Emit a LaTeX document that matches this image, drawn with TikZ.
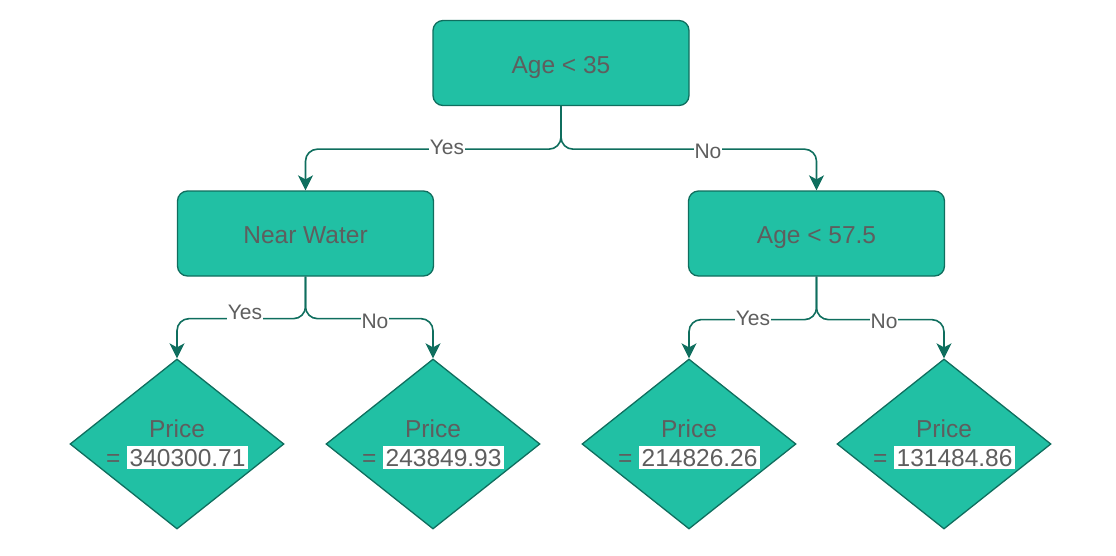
\documentclass[tikz,border=0pt]{standalone}
\usepackage{fontspec}
\setmainfont{Liberation Sans}
\usetikzlibrary{shapes.geometric,arrows.meta}
\definecolor{tfill}{HTML}{21C0A4}
\definecolor{tline}{HTML}{0F6E5E}
\definecolor{ttext}{HTML}{5E5E5E}
\newcommand{\numbox}[1]{{\setlength{\fboxsep}{2.5pt}\colorbox{white}{#1}}}
\begin{document}
\begin{tikzpicture}[x=1pt,y=-1pt,
  box/.style={draw=tline, line width=1.3pt, fill=tfill, rounded corners=10pt,
    minimum width=256pt, minimum height=85pt, inner sep=0pt,
    text height=20pt, text depth=0pt,
    text=ttext, font=\fontsize{24.5}{29}\selectfont},
  leaf/.style={draw=tline, line width=1.3pt, fill=tfill, diamond, shape aspect=1.26,
    minimum width=214pt, minimum height=170pt, inner sep=0pt, align=center,
    text=ttext, font=\fontsize{24.5}{29}\selectfont},
  conn/.style={draw=tline, line width=1.6pt, rounded corners=12pt,
    -{Stealth[length=15pt, width=15pt, inset=4pt]}},
  lbl/.style={fill=white, inner sep=1pt, text=ttext, font=\fontsize{21}{25}\selectfont}]
\useasboundingbox (0,0) rectangle (1116,555);
\node[box] (root) at (561,63) {Age < 35};
\node[box] (nw) at (305.5,233.5) {Near Water};
\node[box] (age) at (816.5,233.5) {Age < 57.5};
\node[leaf] (l1) at (177,444) {Price\\= \numbox{340300.71}};
\node[leaf] (l2) at (433,444) {Price\\= \numbox{243849.93}};
\node[leaf] (l3) at (689,444) {Price\\= \numbox{214826.26}};
\node[leaf] (l4) at (944,444) {Price\\= \numbox{131484.86}};
\draw[conn] (root.south) -- ++(0,43) -| (nw.north);
\draw[conn] (root.south) -- ++(0,43) -| (age.north);
\draw[conn] (nw.south) -- ++(0,42) -| (l1.north);
\draw[conn] (nw.south) -- ++(0,42) -| (l2.north);
\draw[conn] (age.south) -- ++(0,43) -| (l3.north);
\draw[conn] (age.south) -- ++(0,43) -| (l4.north);
\node[lbl] (y1) at (447,147) {Yes};
\node[lbl] (n1) at (708,151) {No};
\node[lbl] (y2) at (245,312) {Yes};
\node[lbl] (n2) at (375,321) {No};
\node[lbl] (y3) at (753,318) {Yes};
\node[lbl] (n3) at (884,321) {No};
\end{tikzpicture}
\end{document}
